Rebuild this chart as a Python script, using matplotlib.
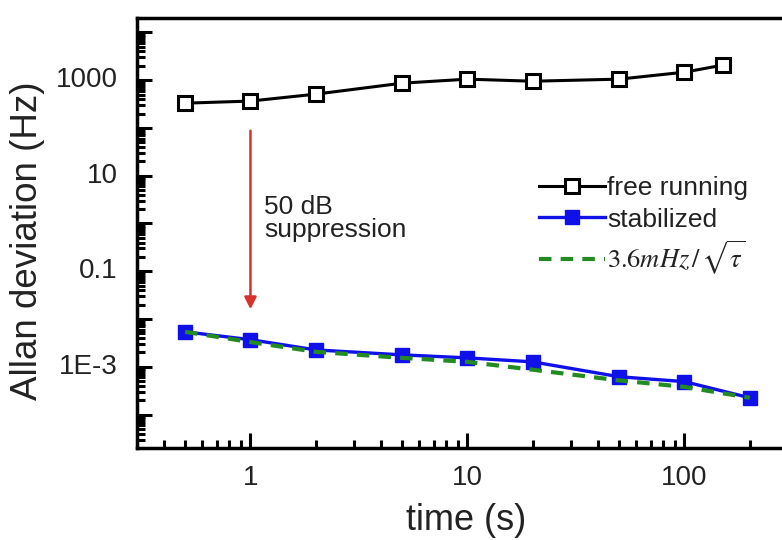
import matplotlib
matplotlib.use("Agg")
import matplotlib.pyplot as plt
from matplotlib.ticker import LogLocator, NullFormatter, FixedLocator, FixedFormatter

plt.rcParams['font.family'] = ['Liberation Sans', 'DejaVu Sans']
plt.rcParams['mathtext.fontset'] = 'stix'

# data
t_free = [0.5, 1, 2, 5, 10, 20, 50, 100, 150]
adev_free = [330, 365, 510, 865, 1050, 950, 1050, 1470, 2060]

t_stab = [0.5, 1, 2, 5, 10, 20, 50, 100, 200]
adev_stab = [5.4e-3, 3.7e-3, 2.26e-3, 1.78e-3, 1.54e-3, 1.27e-3, 6.2e-4, 4.9e-4, 2.25e-4]

t_fit = [0.5, 1, 2, 5, 10, 20, 50, 100, 200]
adev_fit = [5.4e-3, 3.3e-3, 2.06e-3, 1.54e-3, 1.27e-3, 8.7e-4, 5.2e-4, 3.8e-4, 2.25e-4]

ytick_vals = [1e3, 10, 0.1, 1e-3]
ytick_labels = ['1000', '10', '0.1', '1E-3']
xtick_vals = [1, 10, 100]
xtick_labels = ['1', '10', '100']

fig = plt.figure(figsize=(7.82, 5.40), dpi=100)
ax = fig.add_axes([137/782, 92/540, 651/782, 430/540])

ax.plot(t_free, adev_free, color='black', lw=2.2, marker='s', ms=10,
        mfc='white', mec='black', mew=2.2, label='free running')
ax.plot(t_stab, adev_stab, color='#1010e8', lw=2.4, marker='s', ms=10.5,
        mfc='#1010e8', mec='#1010e8', label='stabilized', zorder=3)
ax.plot(t_fit, adev_fit, color='#228b22', lw=3, ls=(0, (3, 2.2)),
        label=r'$3.6mHz\,/\,\sqrt{\tau}$', zorder=4)

ax.set_xscale('log')
ax.set_yscale('log')
ax.set_xlim(0.3, 300)
ax.set_ylim(2e-5, 2e4)

# y ticks: major every decade, labels every second decade
ax.yaxis.set_major_locator(LogLocator(base=10, numticks=20))
ax.yaxis.set_minor_locator(LogLocator(base=10, subs=range(2, 10), numticks=20))
ax.yaxis.set_major_formatter(NullFormatter())
ax.yaxis.set_minor_formatter(NullFormatter())
for v, s in zip(ytick_vals, ytick_labels):
    ax.text(-0.03, v, s, transform=ax.get_yaxis_transform(), ha='right',
            va='center', fontsize=20, color='#222222')

ax.xaxis.set_major_locator(FixedLocator(xtick_vals))
ax.xaxis.set_major_formatter(FixedFormatter(xtick_labels))
ax.xaxis.set_minor_locator(LogLocator(base=10, subs=range(2, 10), numticks=20))
ax.xaxis.set_minor_formatter(NullFormatter())

ax.tick_params(which='both', direction='in', width=2.2, colors='black',
               labelcolor='#222222', right=False, top=False)
ax.tick_params(which='major', length=11, labelsize=20, pad=12)
ax.tick_params(which='minor', length=6)
for sp in ['left', 'bottom', 'top']:
    ax.spines[sp].set_linewidth(2.5)
ax.spines['right'].set_visible(False)

# suppression arrow
ax.annotate('', xy=(1, 0.014), xytext=(1, 100),
            arrowprops=dict(arrowstyle='-|>', color='#d9312b', lw=1.8,
                            mutation_scale=18))
ax.text(1.16, 1.3, '50 dB\nsuppression', fontsize=19, color='#222222',
        ha='left', va='center', linespacing=0.95)

leg = ax.legend(loc='upper left', bbox_to_anchor=(0.617, 0.632), frameon=False,
                fontsize=19, handlelength=2.5, handletextpad=0.1,
                labelspacing=0.28, borderpad=0, borderaxespad=0)
for t in leg.get_texts():
    t.set_color('#222222')

fig.text(28/782, 1 - 241/540, 'Allan deviation (Hz)', rotation=90,
         ha='center', va='center', fontsize=26.5, color='#222222')
fig.text(466/782, 1 - 521/540, 'time (s)', ha='center', va='center',
         fontsize=26, color='#222222')

fig.savefig('out.png', dpi=100)
